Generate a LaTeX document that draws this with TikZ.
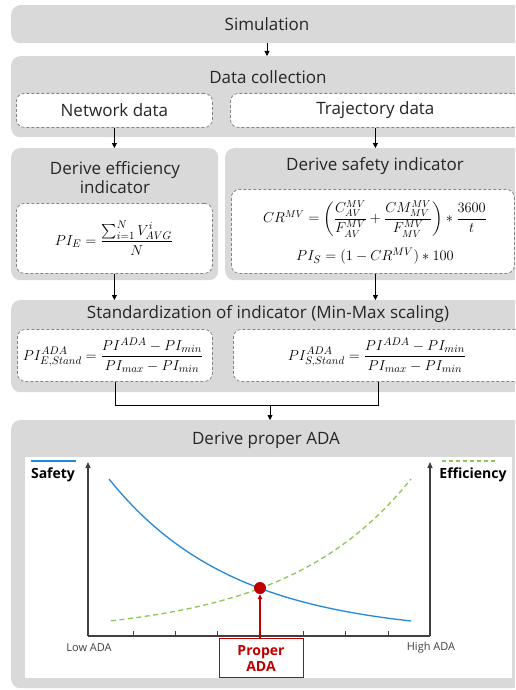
\documentclass[tikz,border=0pt]{standalone}
\usepackage{amsmath}
\usepackage{fontspec}
\setmainfont{Open Sans}
\usetikzlibrary{arrows.meta,calc}
\definecolor{boxgrey}{HTML}{D9D9D9}
\definecolor{dashgrey}{HTML}{858585}
\definecolor{txt}{HTML}{262626}
\definecolor{axgrey}{HTML}{404040}
\definecolor{sblue}{HTML}{2389DA}
\definecolor{egreen}{HTML}{8DC656}
\definecolor{pred}{HTML}{C00000}
\begin{document}
\begin{tikzpicture}[x=1pt,y=-1pt,
  greybox/.style={fill=boxgrey, rounded corners=9pt, inner sep=0pt, anchor=north west},
  dashbox/.style={draw=dashgrey, dash pattern=on 3pt off 2pt, fill=white, rounded corners=8pt, line width=0.8pt, inner sep=0pt, anchor=north west},
  ttl/.style={font=\fontsize{17}{20}\selectfont, text=txt, align=center, inner sep=0pt},
  fml/.style={font=\fontsize{15}{18}\selectfont, text=black, inner sep=0pt},
  arr/.style={-{Triangle[length=5pt,width=5pt]}, line width=0.8pt, draw=black},
  axis/.style={line width=1.1pt, draw=axgrey},
  small/.style={font=\fontsize{11}{13}\selectfont, text=axgrey, inner sep=0pt},
  leg/.style={font=\fontsize{14}{16}\selectfont\bfseries, text=black, inner sep=0pt}]
\useasboundingbox (0,0) rectangle (515,690);
\clip (0,0) rectangle (515,690);
% --- Simulation
\node[greybox, minimum width=530, minimum height=38] (sim) at (11,5) {};
\node[ttl] (simt) at (267,24) {Simulation};
% --- Data collection
\node[greybox, minimum width=530, minimum height=81] (dc) at (11,56) {};
\node[ttl] (dct) at (268,77) {Data collection};
\node[dashbox, ttl, minimum width=196, minimum height=34] (netbox) at (16,93) {Network data};
\node[dashbox, ttl, minimum width=290, minimum height=34] (trajbox) at (230,93) {Trajectory data};
\draw[arr] (simt |- sim.south) -- (simt |- dc.north);
% --- Efficiency
\node[greybox, minimum width=207, minimum height=132] (eff) at (11,148) {};
\node[ttl] (efft) at (115,178) {Derive efficiency\\[-1pt]indicator};
\node[dashbox, minimum width=196, minimum height=70] (effin) at (16,203) {};
\node[fml] (fe) at (114,238) {$PI_E=\dfrac{\sum_{i=1}^{N}V_{AVG}^{i}}{N}$};
% --- Safety
\node[greybox, minimum width=310, minimum height=132] (saf) at (225,148) {};
\node[ttl] (saft) at (375,166) {Derive safety indicator};
\node[dashbox, minimum width=283, minimum height=84] (safin) at (231,189) {};
\node[fml, font=\fontsize{14}{17}\selectfont] (fcr) at (375,219) {$CR^{MV}=\left(\dfrac{C_{AV}^{MV}}{F_{AV}^{MV}}+\dfrac{CM_{MV}^{MV}}{F_{MV}^{MV}}\right)\ast\dfrac{3600}{t}$};
\node[fml] (fps) at (375,256) {$PI_S=(1-CR^{MV})\ast 100$};
\draw[arr] (netbox.south) -- (netbox.south |- eff.north);
\draw[arr] (trajbox.south) -- (trajbox.south |- saf.north);
% --- Standardization
\node[greybox, minimum width=530, minimum height=92] (std) at (11,300) {};
\node[ttl] (stdt) at (268,314) {Standardization of indicator (Min-Max scaling)};
\node[dashbox, minimum width=195, minimum height=52] (stdL) at (17,329) {};
\node[dashbox, minimum width=290, minimum height=52] (stdR) at (233,329) {};
\node[fml] (fsl) at (113,355) {$PI_{E,Stand}^{ADA}=\dfrac{PI^{ADA}-PI_{min}}{PI_{max}-PI_{min}}$};
\node[fml] (fsr) at (377,355) {$PI_{S,Stand}^{ADA}=\dfrac{PI^{ADA}-PI_{min}}{PI_{max}-PI_{min}}$};
\draw[arr] (effin.south) -- (effin.south |- std.north);
\draw[arr] (safin.south -| trajbox.south) -- (trajbox.south |- std.north);
% --- Derive proper ADA
\node[greybox, minimum width=530, minimum height=268] (ada) at (11,420) {};
\node[ttl] (adat) at (266,440) {Derive proper ADA};
\coordinate (mj) at (270,405);
\draw[line width=0.8pt] (stdL.south) -- (stdL.south |- mj) -- (stdR.south |- mj) -- (stdR.south);
\draw[arr] (mj) -- (mj |- ada.north);
\node[fill=white, inner sep=0pt, minimum width=487, minimum height=221, anchor=north west] (panel) at (25,457) {};
% chart
\coordinate (o) at (88,636);
\coordinate (lt) at (88,462);
\coordinate (rb) at (430,636);
\coordinate (rt) at (430,462);
\draw[axis] (o) -- (rb);
\draw[axis, -{Triangle[length=6pt,width=5pt]}] (o) -- (lt);
\draw[axis, -{Triangle[length=6pt,width=5pt]}] (rb) -- (rt);
\foreach \t in {133,175,217,303,345,388} \draw[axis, line width=0.9pt] (\t,636) -- (\t,631);
\node[small] (low) at (89,648) {Low ADA};
\node[small] (high) at (431,648) {High ADA};
\node[leg] (safl) at (53,475) {Safety};
\node[leg] (effl) at (473,475) {Efficiency};
\draw[sblue, line width=1.3pt] (31,461) -- (76,461);
\draw[egreen, line width=1.3pt, dash pattern=on 4pt off 3pt] (442,461) -- (495,461);
\draw[sblue, line width=1.3pt, smooth, samples=60, domain=109:411]
  plot (\x, {479 + 142*(1-exp(-2.416*(\x-109)/302))/0.9107});
\draw[egreen, line width=1.3pt, dash pattern=on 5pt off 3.5pt, smooth, samples=60, domain=111:411]
  plot (\x, {479 + 142*(1-exp(-2.416*(411-\x)/302))/0.9107});
\node[circle, fill=pred, minimum size=12, inner sep=0pt] (dot) at (260,588) {};
\node[draw=pred, line width=1pt, text=pred, font=\fontsize{14}{16}\selectfont\bfseries, align=center, minimum width=84, minimum height=39, inner sep=0pt, anchor=north] (prop) at (261,638) {Proper\\ADA};
\draw[pred, line width=1.2pt, -{Triangle[length=5pt,width=4.5pt]}] (prop.north -| dot) -- (dot.south);
\end{tikzpicture}
\end{document}
